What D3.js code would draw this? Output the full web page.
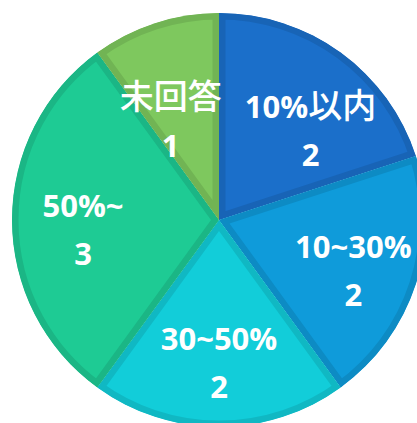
<!DOCTYPE html>
<html>
<head>
<meta charset="utf-8">
<script src="https://cdn.jsdelivr.net/npm/d3@7"></script>
<style>
  body { margin: 0; background: #fff; }
  svg { display: block; }
  .lbl { fill: #fff; font-family: "Open Sans", "Noto Sans CJK JP", sans-serif; font-weight: 700; }
</style>
</head>
<body>
<div id="chart"></div>
<script>
// pie data, clockwise from 12 o'clock
var categories = ["10%以内", "10~30%", "30~50%", "50%~", "未回答"];
var counts = [2, 2, 2, 3, 1];
var colors = ["#1B6FCA", "#0F9BDA", "#12CDD9", "#1ECB94", "#7EC85E"];

var width = 417, height = 423;
var cx = 219, cy = 220, radius = 207;

var svg = d3.select("#chart").append("svg")
    .attr("width", width)
    .attr("height", height);

var g = svg.append("g").attr("transform", "translate(" + cx + "," + cy + ")");

var pie = d3.pie().sort(null).value(function (d) { return d.value; });
var arc = d3.arc().innerRadius(0).outerRadius(radius);
var labelArc = d3.arc().innerRadius(137).outerRadius(137);

var data = pie(categories.map(function (c, i) {
    return { name: c, value: counts[i], color: colors[i] };
}));

// clip paths so the darker border stays inside each slice
var defs = svg.append("defs");
data.forEach(function (d, i) {
    defs.append("clipPath").attr("id", "clip" + i)
        .append("path").attr("d", arc(d));
});

var slices = g.selectAll("g.slice")
    .data(data)
    .enter().append("g")
    .attr("class", "slice");

slices.append("path")
    .attr("d", arc)
    .attr("fill", function (d) { return d.data.color; })
    .attr("stroke", function (d) { return d3.color(d.data.color).darker(0.3); })
    .attr("stroke-width", 13)
    .attr("clip-path", function (d, i) { return "url(#clip" + i + ")"; });

// small nudges so labels sit like the original (best fit placement)
var nudge = { "10%以内": [11, 21], "10~30%": [4, 8], "30~50%": [0, 5], "50%~": [1, 9], "未回答": [-6, 31] };

var labels = slices.append("text")
    .attr("class", "lbl")
    .attr("text-anchor", "middle")
    .attr("transform", function (d) {
        var c = labelArc.centroid(d);
        var n = nudge[d.data.name];
        return "translate(" + (c[0] + n[0]) + "," + (c[1] + n[1]) + ")";
    });

labels.each(function (d) {
    var t = d3.select(this);
    var line1 = t.append("tspan").attr("x", 0).attr("y", -12);
    // split latin and CJK runs so CJK keeps a lighter weight
    var runs = d.data.name.match(/[\u3000-\u9fff]+|[^\u3000-\u9fff]+/g);
    runs.forEach(function (r) {
        var cjk = /[\u3000-\u9fff]/.test(r);
        line1.append("tspan")
            .text(r)
            .style("font-size", cjk ? "34px" : "31px")
            .style("font-weight", cjk ? 500 : 700)
            .style("font-family", cjk ? "'Noto Sans CJK JP', sans-serif" : null);
    });
    t.append("tspan").attr("x", 0).attr("y", 36)
        .style("font-size", "31px")
        .text(d.data.value);
});
</script>
</body>
</html>
